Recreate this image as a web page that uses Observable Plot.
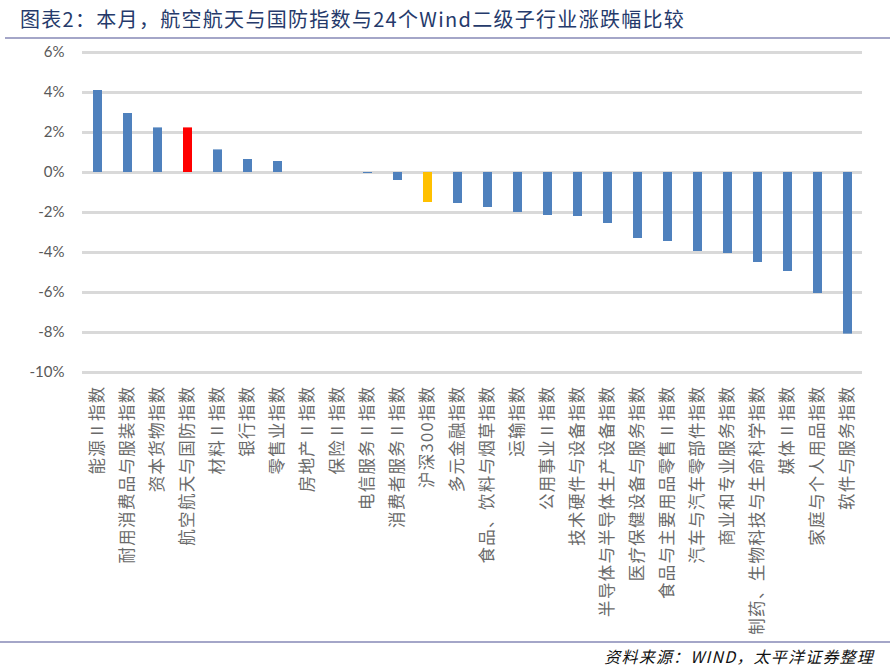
<!DOCTYPE html>
<html>
<head>
<meta charset="utf-8">
<script src="https://cdn.jsdelivr.net/npm/d3@7"></script>
<script src="https://cdn.jsdelivr.net/npm/@observablehq/plot@0.6"></script>
<style>
  html, body { margin: 0; padding: 0; background: #fff; }
  #wrap { width: 895px; height: 668px; position: relative; overflow: hidden; }
  #title {
    height: 39px; line-height: 37px; margin-left: 5px; padding-left: 15px;
    border-bottom: 2px solid #a4a6c8;
    font-family: "Noto Sans CJK SC", sans-serif; font-size: 20px; color: #253a6b;
    letter-spacing: 1.3px; box-sizing: border-box; width: 885px; white-space: nowrap;
  }
  #chart svg { display: block; }
  #foot {
    border-top: 2px solid #a4a6c8; width: 890px; height: 27px; box-sizing: border-box;
    text-align: right; padding-right: 16px;
    font-family: "Noto Sans CJK SC", sans-serif; font-style: italic; font-size: 16px;
    line-height: 26px; color: #111; letter-spacing: 1.2px;
  }
</style>
</head>
<body>
<div id="wrap">
  <div id="title">图表2：本月，航空航天与国防指数与24个Wind二级子行业涨跌幅比较</div>
  <div id="chart"></div>
  <div id="foot">资料来源：WIND，太平洋证券整理</div>
</div>
<script>
const categories = [
  "能源Ⅱ指数", "耐用消费品与服装指数", "资本货物指数", "航空航天与国防指数", "材料Ⅱ指数",
  "银行指数", "零售业指数", "房地产Ⅱ指数", "保险Ⅱ指数", "电信服务Ⅱ指数",
  "消费者服务Ⅱ指数", "沪深300指数", "多元金融指数", "食品、饮料与烟草指数", "运输指数",
  "公用事业Ⅱ指数", "技术硬件与设备指数", "半导体与半导体生产设备指数", "医疗保健设备与服务指数", "食品与主要用品零售Ⅱ指数",
  "汽车与汽车零部件指数", "商业和专业服务指数", "制药、生物科技与生命科学指数", "媒体Ⅱ指数", "家庭与个人用品指数",
  "软件与服务指数"
];
const values = [
  4.1, 2.95, 2.23, 2.23, 1.13,
  0.65, 0.55, 0, 0, -0.05,
  -0.4, -1.5, -1.55, -1.75, -2.0,
  -2.15, -2.2, -2.55, -3.3, -3.45,
  -3.95, -4.05, -4.5, -4.95, -6.05,
  -8.08
];
const yTicks = [6, 4, 2, 0, -2, -4, -6, -8, -10];
const highlightAero = "航空航天与国防指数";
const highlightIndex = "沪深300指数";

const data = categories.map((c, i) => ({ name: c, value: values[i] }));
const colorOf = d => d.name === highlightAero ? "#ff0000" : d.name === highlightIndex ? "#ffc000" : "#4f81bd";

const chart = Plot.plot({
  width: 895,
  height: 602,
  marginLeft: 82,
  marginRight: 33,
  marginTop: 13,
  marginBottom: 269,
  style: { fontFamily: "'Noto Sans CJK SC', sans-serif", background: "#fff" },
  x: { domain: categories, paddingInner: 0.7, paddingOuter: 0.35 },
  y: { domain: [-10, 6] },
  marks: [
    Plot.ruleY(yTicks, { stroke: "#d9d9d9", strokeWidth: 3 }),
    Plot.barY(data, { x: "name", y: "value", fill: colorOf }),
    Plot.axisY(yTicks, {
      tickSize: 0, tickPadding: 18, tickFormat: d => d + "%",
      fill: "#595959", label: null
    }),
    Plot.axisX({
      tickSize: 0, tickPadding: 13, tickRotate: -90, textAnchor: "end", lineAnchor: "middle",
      fill: "#6a6a6a", label: null, stroke: null
    })
  ]
});
d3.select(chart).selectAll('g[aria-label="x-axis tick label"] text')
  .style("font-size", "16.5px").style("letter-spacing", "1.3px");
d3.select(chart).selectAll('g[aria-label="x-axis tick label"]')
  .style("font-size", "16.5px");
d3.select(chart).selectAll('g[aria-label="y-axis tick label"]')
  .style("font-size", "15px").style("font-family", "Lato, sans-serif");
document.getElementById("chart").appendChild(chart);
</script>
</body>
</html>
